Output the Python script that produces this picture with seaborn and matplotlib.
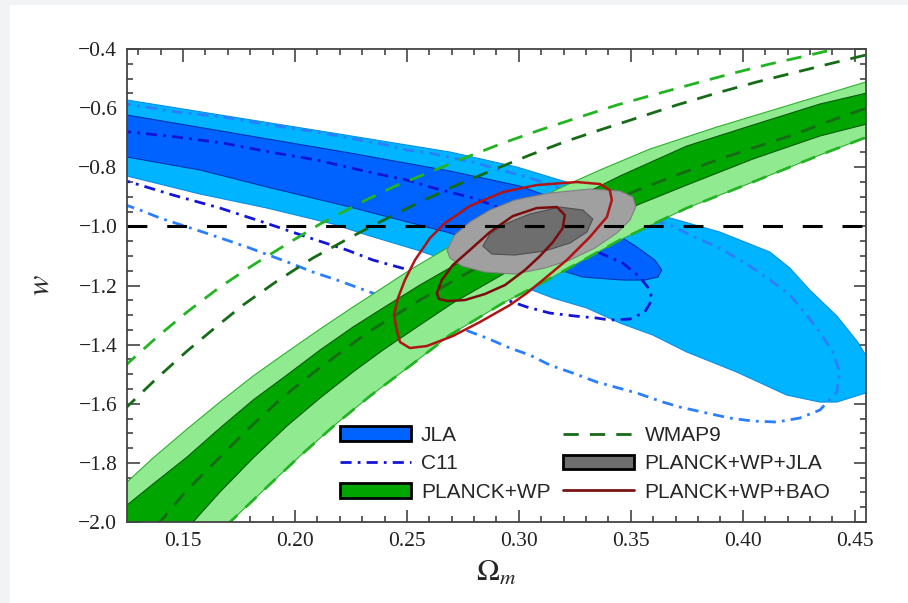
import matplotlib
matplotlib.use("Agg")
import matplotlib.pyplot as plt
import seaborn as sns
from matplotlib.patches import Patch, Rectangle
from matplotlib.lines import Line2D
from matplotlib.ticker import MultipleLocator, FuncFormatter

# ---- contour outlines (Omega_m, w) ----
# JLA 2 sigma (light blue)
jla2_x = [0.1174, 0.125, 0.1723, 0.2170, 0.2692, 0.2991, 0.3138, 0.3286, 0.3451, 0.3661,
          0.3897, 0.4121, 0.4210, 0.4299, 0.4420, 0.4513, 0.4576, 0.4576, 0.4549, 0.4491,
          0.4420, 0.4344, 0.4196, 0.3973, 0.3750, 0.3598, 0.3451, 0.3304, 0.3152, 0.3036,
          0.2781, 0.2545, 0.2321, 0.2170, 0.1875, 0.1576, 0.125, 0.1174]
jla2_y = [-0.5624, -0.5725, -0.6300, -0.6842, -0.7484, -0.7992, -0.8330, -0.8668, -0.9108, -0.9683,
          -1.0191, -1.0867, -1.1409, -1.2153, -1.3032, -1.3912, -1.4690, -1.5367, -1.5637, -1.5772,
          -1.5942, -1.5942, -1.5705, -1.4927, -1.4250, -1.3675, -1.3269, -1.2762, -1.2423, -1.2085,
          -1.1409, -1.0800, -1.0292, -0.9920, -0.9379, -0.8905, -0.8296, -0.8093]

# JLA 1 sigma (blue)
jla1_x = [0.1174, 0.125, 0.1723, 0.2246, 0.2692, 0.3004, 0.3152, 0.3295, 0.3406, 0.3527,
          0.3607, 0.3638, 0.3621, 0.3562, 0.3464, 0.3286, 0.3183, 0.3004, 0.2826, 0.2692,
          0.2246, 0.1875, 0.1576, 0.125, 0.1174]
jla1_y = [-0.6131, -0.6233, -0.6842, -0.7518, -0.8127, -0.8635, -0.9041, -0.9514, -1.0123, -1.0698,
          -1.1138, -1.1476, -1.1713, -1.1815, -1.1815, -1.1713, -1.1476, -1.1070, -1.0597, -1.0224,
          -0.9345, -0.8668, -0.8093, -0.7654, -0.7552]

# C11 1 sigma and 2 sigma (dash-dot outlines)
c11_1_x = [0.1219, 0.1263, 0.1473, 0.1679, 0.1888, 0.2098, 0.2290, 0.2393, 0.2500, 0.2603,
           0.2692, 0.2795, 0.3004, 0.3183, 0.3362, 0.3464, 0.3540, 0.3585, 0.3594, 0.3562,
           0.3496, 0.3406, 0.3348, 0.3250, 0.3138, 0.3036, 0.2946, 0.2737, 0.2558, 0.2348,
           0.2232, 0.2054, 0.1857, 0.1665, 0.1455, 0.1263, 0.1219]
c11_1_y = [-0.6774, -0.6808, -0.6977, -0.7180, -0.7484, -0.7755, -0.8093, -0.8263, -0.8432, -0.8668,
           -0.8838, -0.9041, -0.9616, -1.0191, -1.0901, -1.1239, -1.1713, -1.2153, -1.2491, -1.2897,
           -1.3134, -1.3168, -1.3100, -1.3032, -1.2931, -1.2728, -1.2491, -1.1984, -1.1578, -1.1138,
           -1.0800, -1.0360, -0.9853, -0.9379, -0.8939, -0.8499, -0.8432]

c11_2_x = [0.1219, 0.1366, 0.1473, 0.1679, 0.1888, 0.2098, 0.2290, 0.2411, 0.2500, 0.2603,
           0.2705, 0.2813, 0.2915, 0.3004, 0.3107, 0.3272, 0.3451, 0.3674, 0.3795, 0.3897,
           0.3973, 0.4045, 0.4134, 0.4210, 0.4286, 0.4344, 0.4402, 0.4433, 0.4420, 0.4344,
           0.4254, 0.4152, 0.4045, 0.3942, 0.3839, 0.3719, 0.3643, 0.3527, 0.3348, 0.3241,
           0.3138, 0.3049, 0.2960, 0.2857, 0.2737, 0.2469, 0.2188, 0.2080, 0.1978, 0.1786,
           0.1589, 0.1397, 0.1308, 0.1219]
c11_2_y = [-0.5827, -0.5996, -0.6131, -0.6300, -0.6571, -0.6808, -0.7078, -0.7248, -0.7417, -0.7518,
           -0.7687, -0.7857, -0.8093, -0.8263, -0.8499, -0.8939, -0.9447, -0.9954, -1.0394, -1.0732,
           -1.1070, -1.1409, -1.1882, -1.2322, -1.2999, -1.3574, -1.4250, -1.4927, -1.5603, -1.6213,
           -1.6483, -1.6618, -1.6585, -1.6483, -1.6314, -1.6111, -1.5942, -1.5637, -1.5265, -1.4961,
           -1.4690, -1.4352, -1.4115, -1.3777, -1.3438, -1.2593, -1.1815, -1.1544, -1.1239, -1.0698,
           -1.0191, -0.9717, -0.9447, -0.9210]

# PLANCK+WP 2 sigma band (light green): upper and lower edges
pl2_up_x = [0.1085, 0.125, 0.1366, 0.1518, 0.1665, 0.1813, 0.1964, 0.2112, 0.2259, 0.2335,
            0.2513, 0.2679, 0.2915, 0.3183, 0.3362, 0.3585, 0.3884, 0.4179, 0.4549, 0.4656]
pl2_up_y = [-1.9798, -1.8648, -1.7836, -1.6855, -1.5942, -1.5062, -1.4250, -1.3472, -1.2728, -1.2356,
            -1.1476, -1.0732, -0.9717, -0.8702, -0.8093, -0.7383, -0.6639, -0.5962, -0.5116, -0.4880]
pl2_lo_x = [0.4656, 0.4554, 0.4344, 0.4045, 0.3750, 0.3451, 0.3272, 0.3094, 0.2929, 0.2692,
            0.2513, 0.2335, 0.2188, 0.2022, 0.1875, 0.1710, 0.1643]
pl2_lo_y = [-0.6740, -0.6977, -0.7586, -0.8499, -0.9379, -1.0461, -1.1206, -1.1950, -1.2593, -1.3675,
            -1.4724, -1.5739, -1.6652, -1.7769, -1.8817, -2.0, -2.0609]

# PLANCK+WP 1 sigma band (green)
pl1_up_x = [0.1085, 0.125, 0.1366, 0.1518, 0.1665, 0.1813, 0.1964, 0.2112, 0.2259, 0.2379,
            0.2558, 0.2737, 0.2915, 0.3094, 0.3272, 0.3451, 0.3750, 0.4045, 0.4344, 0.4554, 0.4656]
pl1_up_y = [-2.0440, -1.9426, -1.8716, -1.7802, -1.6821, -1.5874, -1.5028, -1.4183, -1.3405, -1.2829,
            -1.1984, -1.1206, -1.0495, -0.9785, -0.8973, -0.8296, -0.7281, -0.6571, -0.5861, -0.5488, -0.5319]
pl1_lo_x = [0.4656, 0.4554, 0.4344, 0.4045, 0.3750, 0.3451, 0.3272, 0.3094, 0.2915, 0.2705,
            0.2558, 0.2393, 0.2259, 0.2112, 0.1964, 0.1813, 0.1665, 0.1545, 0.1487]
pl1_lo_y = [-0.6334, -0.6537, -0.6943, -0.7721, -0.8601, -0.9514, -1.0191, -1.0901, -1.1679, -1.2593,
            -1.3337, -1.4183, -1.4927, -1.5806, -1.6753, -1.7836, -1.8986, -2.0, -2.0609]

# WMAP9 dashed contours
wm2_up_x = [0.1152, 0.125, 0.1384, 0.1518, 0.1665, 0.1813, 0.1964, 0.2112, 0.2290, 0.2438,
            0.2603, 0.2768, 0.2929, 0.3094, 0.3272, 0.3438, 0.3598, 0.3777, 0.3942, 0.4121,
            0.4299, 0.4433]
wm2_up_y = [-1.5367, -1.4656, -1.3743, -1.2897, -1.2051, -1.1307, -1.0597, -0.9920, -0.9210, -0.8668,
            -0.8161, -0.7654, -0.7180, -0.6740, -0.6300, -0.5894, -0.5556, -0.5184, -0.4846, -0.4507,
            -0.4203, -0.3966]
wm1_up_x = [0.1152, 0.1263, 0.1384, 0.1518, 0.1652, 0.1768, 0.1920, 0.2080, 0.2259, 0.2379,
            0.2558, 0.2723, 0.2884, 0.3049, 0.3214, 0.3375, 0.3527, 0.3705, 0.3884, 0.4062,
            0.4241, 0.4402, 0.4549, 0.4612]
wm1_up_y = [-1.6821, -1.6009, -1.5130, -1.4217, -1.3371, -1.2660, -1.1849, -1.1070, -1.0326, -0.9853,
            -0.9176, -0.8601, -0.8093, -0.7586, -0.7112, -0.6706, -0.6334, -0.5894, -0.5488, -0.5116,
            -0.4778, -0.4474, -0.4203, -0.4068]
wm1_lo_x = [0.1308, 0.1397, 0.1518, 0.1652, 0.1786, 0.1946, 0.2098, 0.2321, 0.2558, 0.2737,
            0.2915, 0.3094, 0.3272, 0.3509, 0.3705, 0.3884, 0.4045, 0.4223, 0.4388, 0.4554, 0.4612]
wm1_lo_y = [-2.0779, -2.0, -1.8918, -1.7904, -1.6889, -1.5772, -1.4859, -1.3607, -1.2491, -1.1713,
            -1.0969, -1.0292, -0.9650, -0.8838, -0.8262, -0.7755, -0.7349, -0.6909, -0.6436, -0.5996, -0.5861]

# PLANCK+WP+JLA (grey)
pwj2_x = [0.2679, 0.2714, 0.2781, 0.2871, 0.2982, 0.3138, 0.3317, 0.3451, 0.3509, 0.3522,
          0.3496, 0.3438, 0.3339, 0.3228, 0.3116, 0.2982, 0.2848, 0.2746, 0.2692]
pwj2_y = [-1.0800, -1.0292, -0.9853, -0.9447, -0.9108, -0.8871, -0.8736, -0.8804, -0.9007, -0.9345,
          -0.9785, -1.0224, -1.0732, -1.1138, -1.1409, -1.1612, -1.1544, -1.1341, -1.1070]
pwj1_x = [0.2839, 0.2871, 0.2938, 0.3049, 0.3183, 0.3286, 0.3330, 0.3304, 0.3228, 0.3116,
          0.2982, 0.2879]
pwj1_y = [-1.0664, -1.0258, -0.9920, -0.9582, -0.9345, -0.9447, -0.9751, -1.0191, -1.0563, -1.0834,
          -1.0969, -1.0935]

# PLANCK+WP+BAO (red outlines)
pwb2_x = [0.2455, 0.2442, 0.2460, 0.2491, 0.2536, 0.2603, 0.2670, 0.2781, 0.2929, 0.3080,
          0.3259, 0.3362, 0.3406, 0.3415, 0.3393, 0.3317, 0.3214, 0.3107, 0.3036, 0.2960,
          0.2826, 0.2705, 0.2589, 0.2513, 0.2469]
pwb2_y = [-1.3506, -1.2999, -1.2423, -1.1815, -1.1138, -1.0394, -0.9886, -0.9311, -0.8838, -0.8601,
          -0.8499, -0.8567, -0.8770, -0.9108, -0.9683, -1.0360, -1.1138, -1.1815, -1.2254, -1.2660,
          -1.3235, -1.3709, -1.4047, -1.4115, -1.3912]
pwb1_x = [0.2634, 0.2656, 0.2705, 0.2781, 0.2871, 0.2973, 0.3080, 0.3170, 0.3205, 0.3196,
          0.3152, 0.3094, 0.3027, 0.2938, 0.2848, 0.2759, 0.2683, 0.2643]
pwb1_y = [-1.2254, -1.1815, -1.1307, -1.0800, -1.0191, -0.9650, -0.9379, -0.9345, -0.9616, -1.0055,
          -1.0529, -1.1003, -1.1476, -1.1984, -1.2288, -1.2491, -1.2525, -1.2457]

w_lcdm = -1.0
x_ticks_step, y_ticks_step = 0.05, 0.2
labels = ["JLA", "C11", "PLANCK+WP", "WMAP9", "PLANCK+WP+JLA", "PLANCK+WP+BAO"]

sns.set_style("ticks")
plt.rcParams['font.family'] = ['Liberation Serif', 'DejaVu Serif']
plt.rcParams['mathtext.fontset'] = 'stix'

fig = plt.figure(figsize=(9.08, 6.03), dpi=100, facecolor='#f2f3f4')
fig.patches.append(Rectangle((10 / 908, 0), 1, 1 - 5 / 603, transform=fig.transFigure,
                             facecolor='white', edgecolor='none', zorder=-10))
ax = fig.add_axes([0.1399, 0.1343, 0.8138, 0.7844])
ax.set_facecolor('white')


def curve(xs, ys, color, lw, ls='-', close=False, z=3):
    if close:
        xs = list(xs) + [xs[0]]
        ys = list(ys) + [ys[0]]
    sns.lineplot(x=xs, y=ys, sort=False, estimator=None, color=color,
                 linewidth=lw, linestyle=ls, ax=ax, zorder=z)


dashdot = (0, (4, 2.2, 1, 2.2))
wdash = (0, (5.5, 4))

# JLA
ax.fill(jla2_x, jla2_y, facecolor='#00b4ff', edgecolor='#0a8fe8', lw=0.8, zorder=1)
ax.fill(jla1_x, jla1_y, facecolor='#0062ff', edgecolor='#0035b0', lw=0.8, zorder=1.1)
# C11
curve(c11_2_x, c11_2_y, '#2a7fff', 2.0, dashdot, close=True, z=1.5)
curve(c11_1_x, c11_1_y, '#1414d8', 2.0, dashdot, close=True, z=1.5)
# WMAP9 upper branches
curve(wm2_up_x, wm2_up_y, '#22b422', 2.0, wdash, z=1.6)
curve(wm1_up_x, wm1_up_y, '#166b16', 2.0, wdash, z=1.6)
# PLANCK+WP
ax.fill(pl2_up_x + pl2_lo_x, pl2_up_y + pl2_lo_y, facecolor='#90ea90',
        edgecolor='#30b030', lw=0.8, zorder=2)
ax.fill(pl1_up_x + pl1_lo_x, pl1_up_y + pl1_lo_y, facecolor='#00a500',
        edgecolor='#0b5a0b', lw=0.8, zorder=2.1)
# WMAP9 lower branches on top of the band
curve(wm1_lo_x, wm1_lo_y, '#166b16', 2.0, wdash, z=2.2)
curve(pl2_lo_x, pl2_lo_y, '#22b422', 2.0, wdash, z=2.2)
# PLANCK+WP+JLA
ax.fill(pwj2_x, pwj2_y, facecolor='#a0a0a0', edgecolor='#808080', lw=0.8, zorder=2.5)
ax.fill(pwj1_x, pwj1_y, facecolor='#6e6e6e', edgecolor='#505050', lw=0.8, zorder=2.6)
# PLANCK+WP+BAO
curve(pwb2_x, pwb2_y, '#b01414', 1.8, close=True, z=3)
curve(pwb1_x, pwb1_y, '#7a0c0c', 1.8, close=True, z=3)

ax.axhline(w_lcdm, color='black', lw=2.2, linestyle=(0, (6.5, 6.5)), zorder=4)

ax.set_xlim(0.125, 0.455)
ax.set_ylim(-2.0, -0.4)
ax.xaxis.set_major_locator(MultipleLocator(x_ticks_step))
ax.xaxis.set_minor_locator(MultipleLocator(0.01))
ax.yaxis.set_major_locator(MultipleLocator(y_ticks_step))
ax.yaxis.set_minor_locator(MultipleLocator(0.05))
ax.xaxis.set_major_formatter(FuncFormatter(lambda v, p: f"{v:.2f}"))
ax.yaxis.set_major_formatter(FuncFormatter(lambda v, p: f"{v:.1f}".replace('-', '\u2212')))
ax.tick_params(which='both', direction='in', top=True, right=True, width=1.1,
               colors='#333333', labelcolor='#222222', labelsize=15.5, pad=7)
ax.tick_params(which='major', length=9)
ax.tick_params(which='minor', length=4.5)
for s in ax.spines.values():
    s.set_linewidth(1.3)
    s.set_color('#444444')
    s.set_zorder(5)

ax.set_xlabel(r'$\Omega_m$', fontsize=22, labelpad=6)
ax.set_ylabel(r'$w$', fontsize=22, labelpad=16)

handles = [
    Patch(facecolor='#0062ff', edgecolor='black', linewidth=2),
    Line2D([], [], color='#1414d8', lw=2.0, linestyle=dashdot),
    Patch(facecolor='#00a500', edgecolor='black', linewidth=2),
    Line2D([], [], color='#166b16', lw=2.0, linestyle=wdash),
    Patch(facecolor='#6e6e6e', edgecolor='black', linewidth=2),
    Line2D([], [], color='#7a1414', lw=2.0),
]
leg = ax.legend(handles, labels, ncol=2, loc='upper left', bbox_to_anchor=(0.288, 0.203),
                frameon=False, borderaxespad=0, borderpad=0, handlelength=3.4,
                handletextpad=0.5, columnspacing=0.6, labelspacing=0.45,
                prop={'family': 'Liberation Sans', 'size': 15})
leg.set_zorder(6)

fig.savefig('out.png', dpi=100, facecolor=fig.get_facecolor())
